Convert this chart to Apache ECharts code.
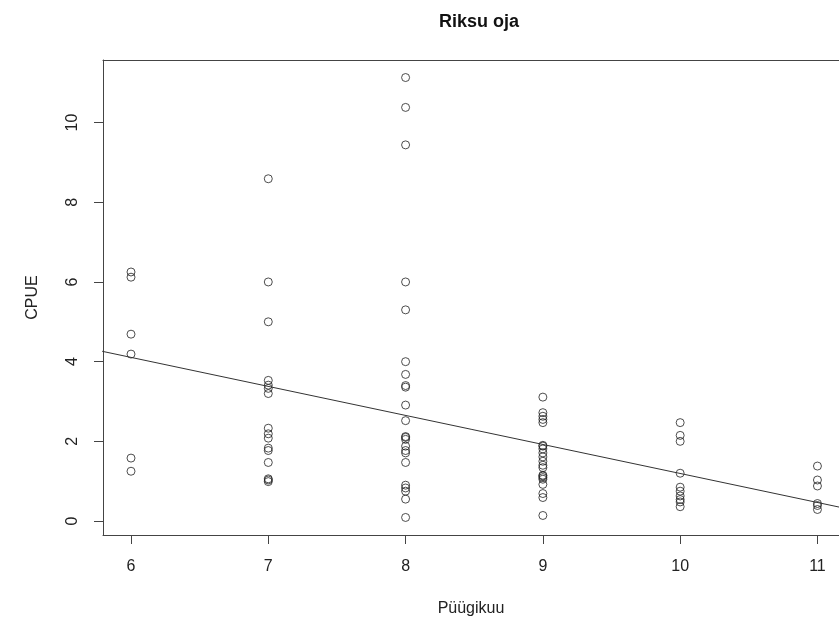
<!DOCTYPE html>
<html>
<head>
<meta charset="utf-8">
<script src="https://cdn.jsdelivr.net/npm/echarts@6/dist/echarts.min.js"></script>
<style>html,body{margin:0;padding:0;background:#fff;}#c{width:839px;height:622px;}</style>
</head>
<body>
<div id="c"></div>
<script>
// Data
const months = [6, 7, 8, 9, 10, 11];
const cpue6 = [6.25, 6.12, 4.69, 4.19, 1.58, 1.25];
const cpue7 = [8.59, 6.0, 5.0, 3.53, 3.41, 3.33, 3.2, 2.33, 2.19, 2.08, 1.83, 1.77, 1.47, 1.06, 1.03, 0.99];
const cpue8 = [11.13, 10.38, 9.44, 6.0, 5.3, 4.0, 3.68, 3.4, 3.36, 2.91, 2.52, 2.12, 2.1, 2.05, 1.88, 1.77, 1.71, 1.47, 0.9, 0.83, 0.75, 0.55, 0.09];
const cpue9 = [3.11, 2.72, 2.63, 2.55, 2.47, 1.9, 1.88, 1.81, 1.71, 1.61, 1.5, 1.4, 1.34, 1.15, 1.13, 1.09, 1.05, 0.92, 0.69, 0.59, 0.14];
const cpue10 = [2.47, 2.15, 2.0, 1.2, 0.85, 0.75, 0.63, 0.54, 0.48, 0.36];
const cpue11 = [1.38, 1.03, 0.88, 0.44, 0.39, 0.29];
const cpueByMonth = [cpue6, cpue7, cpue8, cpue9, cpue10, cpue11];
const regLine = [[5.79, 4.26], [11.2, 0.32]];
const xTicks = [6, 7, 8, 9, 10, 11];
const yTicks = [0, 2, 4, 6, 8, 10];

const points = [];
months.forEach((m, i) => cpueByMonth[i].forEach(v => points.push([m, v])));

const font = "'Liberation Sans', Arial, sans-serif";
const axisCol = '#444';
const chart = echarts.init(document.getElementById('c'), null, {renderer: 'canvas'});
chart.setOption({
  animation: false,
  backgroundColor: '#fff',
  title: {
    text: 'Riksu oja', left: 474, top: 8, textAlign: 'center',
    textStyle: {fontFamily: font, fontSize: 18, fontWeight: 'bold', color: '#111'}
  },
  grid: {left: 103, top: 60, right: 0, bottom: 86, show: false},
  xAxis: [{
    type: 'value', min: 5.796, max: 11.157, position: 'bottom',
    name: 'Püügikuu', nameLocation: 'middle', nameGap: 66,
    nameTextStyle: {fontFamily: font, fontSize: 16, color: '#222'},
    axisLine: {show: true, onZero: false, lineStyle: {color: axisCol, width: 1}},
    axisTick: {show: true, length: 9, customValues: xTicks, lineStyle: {color: axisCol}},
    axisLabel: {customValues: xTicks, margin: 24, fontFamily: font, fontSize: 16, color: '#222'},
    splitLine: {show: false}
  }, {
    type: 'value', min: 5.796, max: 11.157, position: 'top',
    axisLine: {show: true, onZero: false, lineStyle: {color: axisCol, width: 1}},
    axisTick: {show: false}, axisLabel: {show: false}, splitLine: {show: false}
  }],
  yAxis: {
    type: 'value', min: -0.35, max: 11.57,
    name: 'CPUE', nameLocation: 'middle', nameGap: 62, nameRotate: 90,
    nameTextStyle: {fontFamily: font, fontSize: 16, color: '#222'},
    axisLine: {show: true, onZero: false, lineStyle: {color: axisCol, width: 1}},
    axisTick: {show: true, length: 9, customValues: yTicks, lineStyle: {color: axisCol}},
    axisLabel: {customValues: yTicks, rotate: 90, margin: 22, fontFamily: font, fontSize: 16, color: '#222'},
    splitLine: {show: false}
  },
  series: [
    {
      type: 'scatter', data: points, symbol: 'circle', symbolSize: 8,
      itemStyle: {color: 'rgba(0,0,0,0)', borderColor: '#222', borderWidth: 1}
    },
    {
      type: 'line', data: regLine, symbol: 'none', clip: true,
      lineStyle: {color: '#333', width: 1}
    }
  ]
});
</script>
</body>
</html>
